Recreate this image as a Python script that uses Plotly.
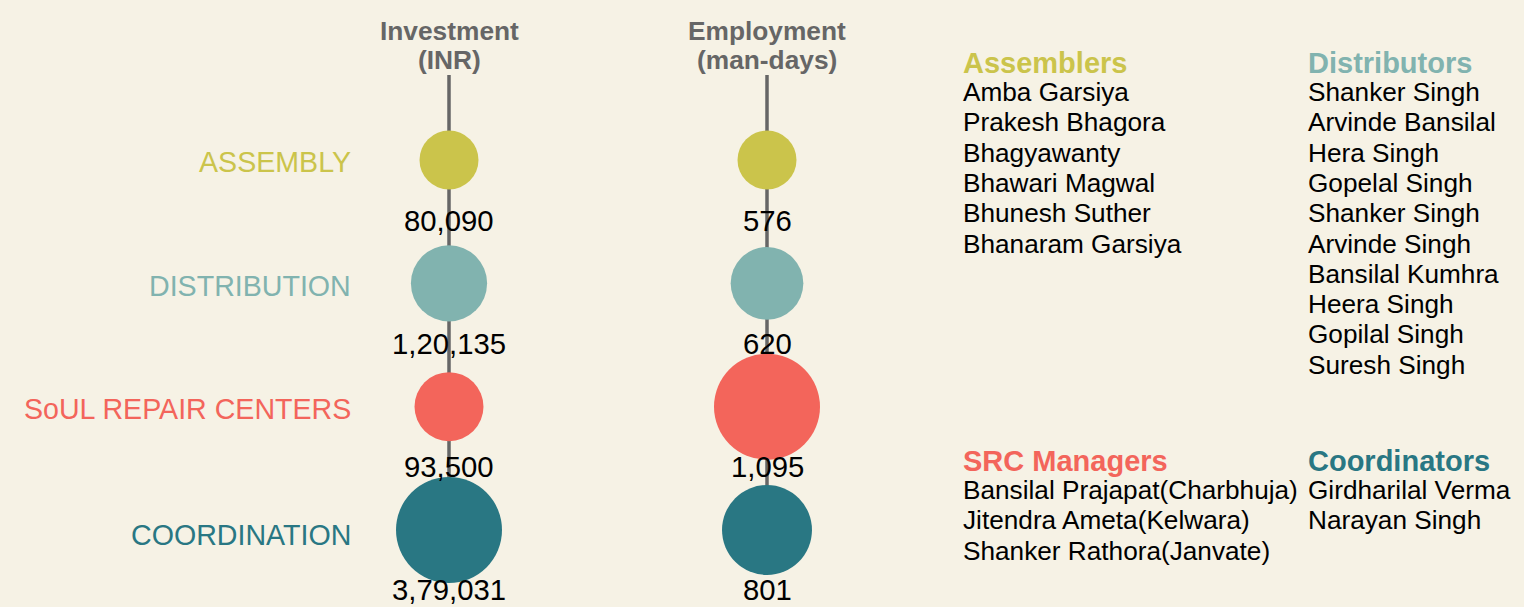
import math
import plotly.graph_objects as go

# ---------------- data ----------------
CATEGORIES = ["ASSEMBLY", "DISTRIBUTION", "SoUL REPAIR CENTERS", "COORDINATION"]
CATEGORY_COLORS = ["#CBC44B", "#81B3AF", "#F3655B", "#297783"]
MEASURE_TITLES = [["Investment", "(INR)"], ["Employment", "(man-days)"]]
INVESTMENT = [80090, 120135, 93500, 379031]
EMPLOYMENT = [576, 620, 1095, 801]

GROUP_TITLES = ["Assemblers", "Distributors", "SRC Managers", "Coordinators"]
ASSEMBLERS = ["Amba Garsiya", "Prakesh Bhagora", "Bhagyawanty", "Bhawari Magwal",
              "Bhunesh Suther", "Bhanaram Garsiya"]
DISTRIBUTORS = ["Shanker Singh", "Arvinde Bansilal", "Hera Singh", "Gopelal Singh",
                "Shanker Singh", "Arvinde Singh", "Bansilal Kumhra", "Heera Singh",
                "Gopilal Singh", "Suresh Singh"]
SRC_MANAGERS = ["Bansilal Prajapat(Charbhuja)", "Jitendra Ameta(Kelwara)",
                "Shanker Rathora(Janvate)"]
COORDINATORS = ["Girdharilal Verma", "Narayan Singh"]
GROUP_MEMBERS = [ASSEMBLERS, DISTRIBUTORS, SRC_MANAGERS, COORDINATORS]

# ---------------- layout geometry ----------------
W, H = 1524, 607
BG = "#F6F2E5"
FONT = "Liberation Sans, Arial, sans-serif"
COL_X0, COL_DX = 449, 318          # px of first column, px between columns
ROW_Y0, ROW_DY = 160, 123.33       # px of first row, px between rows
R_MIN, R_MAX = 29.5, 53            # circle radius range (px)


def px2x(px):
    return (px - COL_X0) / COL_DX


def py2y(py):
    return (py - ROW_Y0) / ROW_DY


def size_scale(values):
    lo, hi = min(values), max(values)
    return [2 * (R_MIN + (R_MAX - R_MIN) * math.sqrt((v - lo) / (hi - lo))) for v in values]


def indian_format(n):
    s = str(int(n))
    if len(s) <= 3:
        return s
    last3 = s[-3:]
    rest = s[:-3]
    parts = []
    while len(rest) > 2:
        parts.insert(0, rest[-2:])
        rest = rest[:-2]
    if rest:
        parts.insert(0, rest)
    return ",".join(parts) + "," + last3


rows = list(range(len(CATEGORIES)))
fig = go.Figure()
annotations = []

for ci, values in enumerate([INVESTMENT, EMPLOYMENT]):
    # vertical stem
    fig.add_trace(go.Scatter(
        x=[ci, ci], y=[py2y(75), rows[-1]], mode="lines",
        line=dict(color="#666666", width=3.5), hoverinfo="skip", showlegend=False))
    # circles
    fig.add_trace(go.Scatter(
        x=[ci] * len(rows), y=rows, mode="markers",
        marker=dict(size=size_scale(values), sizemode="diameter",
                    color=CATEGORY_COLORS, opacity=1, line=dict(width=0)),
        hoverinfo="skip", showlegend=False))
    # value labels
    for r, v in zip(rows, values):
        annotations.append(dict(
            x=ci, y=r + 60 / ROW_DY, xref="x", yref="y", text=indian_format(v),
            showarrow=False, xanchor="center", yanchor="middle",
            font=dict(family=FONT, size=29.3, color="#000000")))
    # column header
    for li, line in enumerate(MEASURE_TITLES[ci]):
        annotations.append(dict(
            x=ci, y=py2y(31 + 29 * li), xref="x", yref="y", text="<b>%s</b>" % line,
            showarrow=False, xanchor="center", yanchor="middle",
            font=dict(family=FONT, size=26.3, color="#666666")))

# category labels
CAT_DY = [2, 3, 2, 5]
for r, (cat, col) in enumerate(zip(CATEGORIES, CATEGORY_COLORS)):
    annotations.append(dict(
        x=px2x(353), y=r + CAT_DY[r] / ROW_DY, xref="x", yref="y", text=cat,
        showarrow=False, xanchor="right", yanchor="middle",
        font=dict(family=FONT, size=28.6, color=col)))

# name lists
GROUP_POS = [(961, 63), (1306, 63), (961, 461), (1306, 461)]
for gi, (title, members) in enumerate(zip(GROUP_TITLES, GROUP_MEMBERS)):
    gx, gy = GROUP_POS[gi]
    annotations.append(dict(
        x=px2x(gx), y=py2y(gy), xref="x", yref="y", text="<b>%s</b>" % title,
        showarrow=False, xanchor="left", yanchor="middle",
        font=dict(family=FONT, size=29, color=CATEGORY_COLORS[gi])))
    for mi, name in enumerate(members):
        annotations.append(dict(
            x=px2x(gx), y=py2y(gy + 29 + 30.3 * mi), xref="x", yref="y", text=name,
            showarrow=False, xanchor="left", yanchor="middle",
            font=dict(family=FONT, size=26.2, color="#000000")))

fig.update_layout(
    width=W, height=H, margin=dict(l=0, r=0, t=0, b=0),
    paper_bgcolor=BG, plot_bgcolor=BG, showlegend=False,
    xaxis=dict(range=[px2x(0), px2x(W)], visible=False, fixedrange=True),
    yaxis=dict(range=[py2y(H), py2y(0)], visible=False, fixedrange=True),
    annotations=annotations,
)

fig.write_html("out.html")
